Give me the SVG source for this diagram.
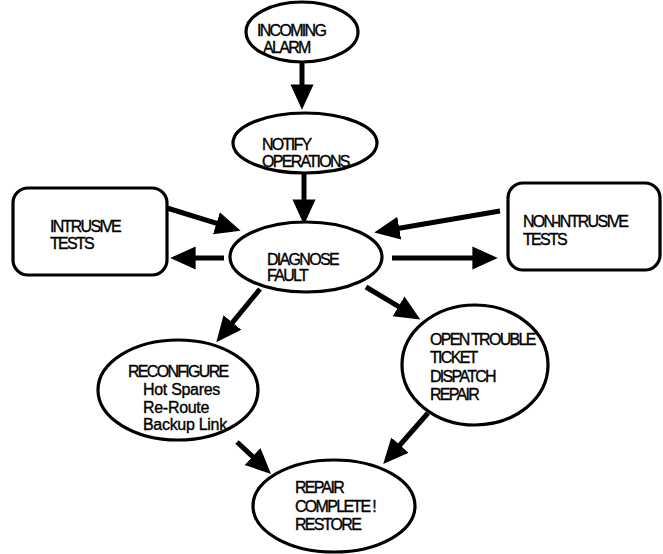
<svg xmlns="http://www.w3.org/2000/svg" width="663" height="554" viewBox="0 0 663 554">
<style>
.n{fill:#fff;stroke:#000;stroke-width:3.2}
.t{font-family:"Liberation Sans",Arial,Helvetica,sans-serif;font-size:16px;fill:#000;stroke:#000;stroke-width:0.35;letter-spacing:-1.7px}
.m{letter-spacing:-0.3px}
.c line{stroke:#000;stroke-width:5;marker-end:url(#ah)}
</style>
<defs>
<marker id="ah" markerUnits="userSpaceOnUse" markerWidth="30" markerHeight="30" viewBox="0 -12 26 24" refX="4" refY="0" orient="auto">
<path d="M0,-10 L22,0 L0,10 z" fill="#000"/>
</marker>
</defs>
<rect width="663" height="554" fill="#fff"/>
<g id="connectors" class="c">
<line x1="302" y1="62" x2="302" y2="89"/>
<line x1="304" y1="172" x2="304" y2="204"/>
<line x1="167" y1="208" x2="220.8" y2="224.7"/>
<line x1="224" y1="258" x2="191" y2="258"/>
<line x1="500" y1="211" x2="394.7" y2="229"/>
<line x1="392" y1="258" x2="477" y2="258"/>
<line x1="260" y1="289" x2="229.5" y2="326.1"/>
<line x1="366" y1="287" x2="402.5" y2="308.8"/>
<line x1="237" y1="442" x2="255.9" y2="459.7"/>
<line x1="428" y1="413" x2="396.9" y2="448.5"/>
</g>
<g id="incoming">
<ellipse class="n" cx="302" cy="32" rx="56" ry="30"/>
<text class="t" x="257" y="36">INCOMING</text>
<text class="t" x="263" y="53">ALARM</text>
</g>
<g id="notify">
<ellipse class="n" cx="305" cy="143" rx="72" ry="30"/>
<text class="t" x="262" y="150">NOTIFY</text>
<text class="t" x="262" y="167">OPERATIONS</text>
</g>
<g id="diagnose">
<ellipse class="n" cx="306" cy="257" rx="76" ry="35"/>
<text class="t" x="267" y="265">DIAGNOSE</text>
<text class="t" x="267" y="281">FAULT</text>
</g>
<g id="intrusive">
<rect class="n" x="13" y="188" width="154" height="87" rx="15"/>
<text class="t" x="50" y="232">INTRUSIVE</text>
<text class="t" x="50" y="249">TESTS</text>
</g>
<g id="nonintrusive">
<rect class="n" x="508" y="183" width="152" height="87" rx="15"/>
<text class="t" x="523" y="227">NON-INTRUSIVE</text>
<text class="t" x="523" y="245">TESTS</text>
</g>
<g id="reconfigure">
<ellipse class="n" cx="178" cy="390" rx="80" ry="50"/>
<text class="t" x="128" y="377">RECONFIGURE</text>
<text class="t m" x="143" y="395">Hot Spares</text>
<text class="t m" x="143" y="413">Re-Route</text>
<text class="t m" x="143" y="430">Backup Link</text>
</g>
<g id="opentrouble">
<ellipse class="n" cx="475" cy="365" rx="73" ry="60"/>
<text class="t" x="430" y="345">OPEN TROUBLE</text>
<text class="t" x="430" y="363">TICKET</text>
<text class="t" x="430" y="382">DISPATCH</text>
<text class="t" x="430" y="400">REPAIR</text>
</g>
<g id="repair">
<ellipse class="n" cx="334" cy="506" rx="81" ry="46"/>
<text class="t" x="295" y="493">REPAIR</text>
<text class="t" x="295" y="512">COMPLETE !</text>
<text class="t" x="295" y="530">RESTORE</text>
</g>
</svg>
